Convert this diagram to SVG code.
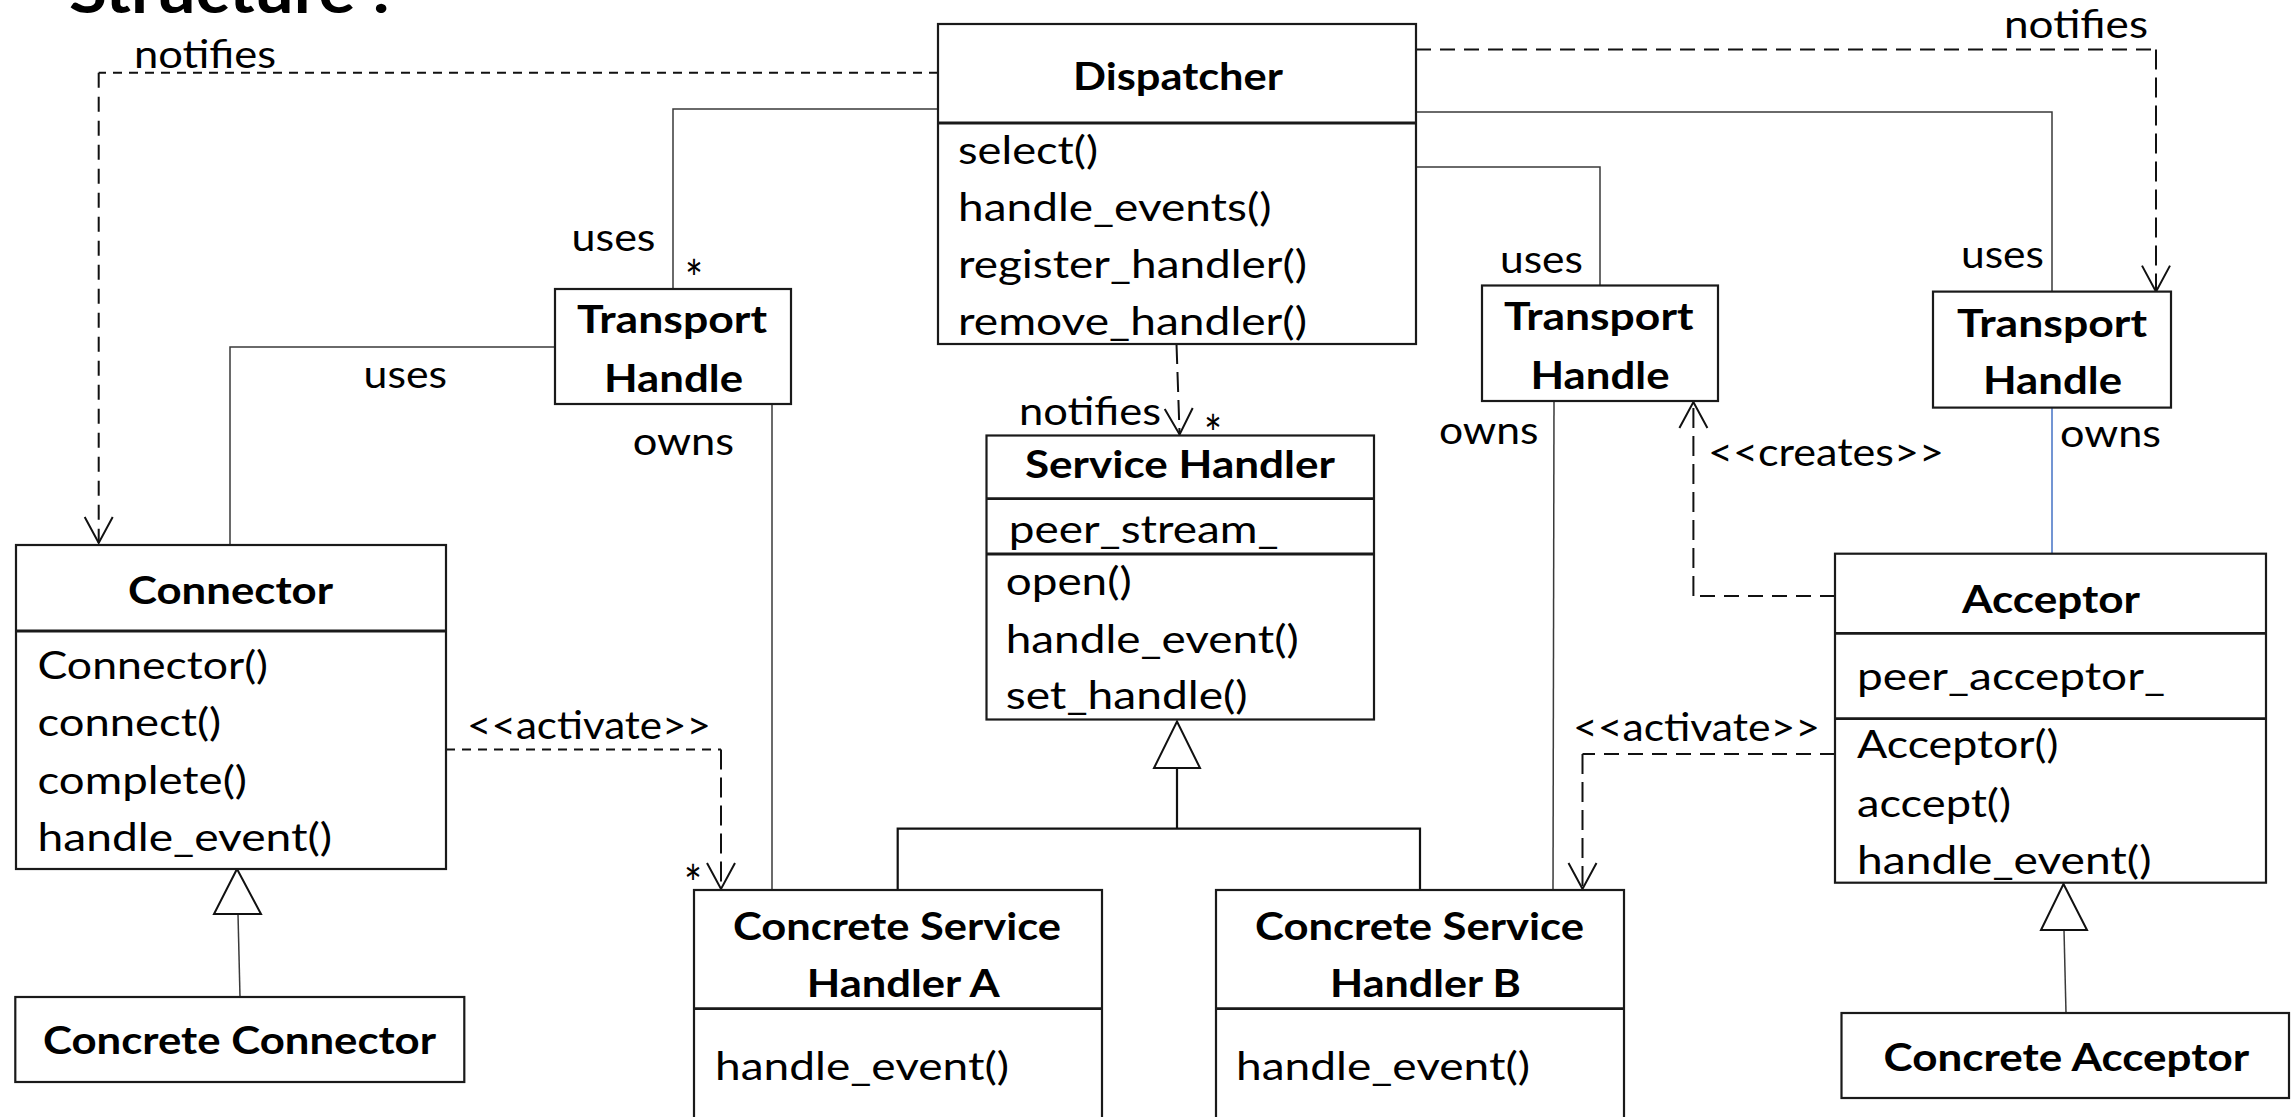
<svg xmlns="http://www.w3.org/2000/svg" width="2295" height="1117" viewBox="0 0 2295 1117">
  <style>
    text { font-family: "Lato", "Carlito", "Liberation Sans", sans-serif; fill: #000; }
    .title { font-size: 62px; font-weight: bold; }
    .hd { font-size: 38px; font-weight: bold; }
    .tx { font-size: 39px; }
    .lb { font-size: 38px; }
    .star { font-size: 50px; }
    .box { fill: #fff; stroke: #1a1a1a; stroke-width: 2.2; }
    .div { stroke: #1a1a1a; stroke-width: 2.8; fill: none; }
    .ln { fill: none; stroke: #3a3a3a; stroke-width: 1.5; }
    .blue { fill: none; stroke: #4472c4; stroke-width: 1.5; }
    .gen { fill: none; stroke: #111; stroke-width: 2.2; }
    .tri { fill: #fff; stroke: #111; stroke-width: 2; }
    .ds { fill: none; stroke: #111; stroke-width: 2; stroke-dasharray: 9 7; }
    .dm { fill: none; stroke: #111; stroke-width: 2; stroke-dasharray: 15 9; }
    .dl { fill: none; stroke: #111; stroke-width: 2; stroke-dasharray: 20 8; }
  </style>
  <defs>
    <marker id="open" markerUnits="userSpaceOnUse" viewBox="-30 -20 40 40" markerWidth="40" markerHeight="40" refX="0" refY="0" orient="auto" overflow="visible">
      <path d="M-26,-14 L0,0 L-26,14" fill="none" stroke="#111" stroke-width="2" stroke-dasharray="none"/>
    </marker>
  </defs>

  <rect width="2295" height="1117" fill="#fff"/>

  <text class="title" x="69" y="13" textLength="321" lengthAdjust="spacingAndGlyphs">Structure :</text>

  <!-- connectors -->
  <g id="connectors">
    <!-- Dispatcher notifies Connector -->
    <g id="c-notify-connector">
      <path class="ds" d="M938,72.7 H98.7"/>
      <path class="dm" d="M98.7,72.7 V543" marker-end="url(#open)"/>
      <text class="lb" x="134" y="68" textLength="142" lengthAdjust="spacingAndGlyphs">notifies</text>
    </g>
    <!-- Dispatcher notifies right Transport Handle -->
    <g id="c-notify-th3">
      <path class="dm" d="M1416,49.5 H2156"/>
      <path class="dl" d="M2156,49.5 V291.6" marker-end="url(#open)"/>
      <text class="lb" x="2004" y="38" textLength="144" lengthAdjust="spacingAndGlyphs">notifies</text>
    </g>
    <!-- Dispatcher uses Transport Handle (left) -->
    <g id="c-uses-th1">
      <path class="ln" d="M938,109 H673 V314"/>
      <text class="lb" x="571.5" y="251" textLength="84" lengthAdjust="spacingAndGlyphs">uses</text>
      <text class="star" x="685" y="297" textLength="18" lengthAdjust="spacingAndGlyphs">*</text>
    </g>
    <!-- Connector uses Transport Handle -->
    <g id="c-connector-uses">
      <path class="ln" d="M555,347 H230 V545"/>
      <text class="lb" x="363.6" y="388" textLength="83.5" lengthAdjust="spacingAndGlyphs">uses</text>
    </g>
    <!-- Concrete Service Handler A owns Transport Handle -->
    <g id="c-owns-a">
      <path class="ln" d="M772,404 V891"/>
      <text class="lb" x="632.7" y="455" textLength="101.5" lengthAdjust="spacingAndGlyphs">owns</text>
    </g>
    <!-- Dispatcher uses Transport Handle (middle) -->
    <g id="c-uses-th2">
      <path class="ln" d="M1416,167 H1600 V285.5"/>
      <text class="lb" x="1500" y="272.5" textLength="83" lengthAdjust="spacingAndGlyphs">uses</text>
    </g>
    <!-- Dispatcher uses Transport Handle (right) -->
    <g id="c-uses-th3">
      <path class="ln" d="M1416,112 H2052 V292"/>
      <text class="lb" x="1961" y="268" textLength="83" lengthAdjust="spacingAndGlyphs">uses</text>
    </g>
    <!-- Concrete Service Handler B owns Transport Handle -->
    <g id="c-owns-b">
      <path class="ln" d="M1554,401 L1553,894"/>
      <text class="lb" x="1439" y="444" textLength="99.5" lengthAdjust="spacingAndGlyphs">owns</text>
    </g>
    <!-- Acceptor owns Transport Handle -->
    <g id="c-owns-acceptor">
      <path class="blue" d="M2052,407.6 V554"/>
      <text class="lb" x="2060" y="447" textLength="101" lengthAdjust="spacingAndGlyphs">owns</text>
    </g>
    <!-- Dispatcher notifies Service Handler -->
    <g id="c-notify-sh">
      <path class="dl" d="M1176.5,344 L1179.6,434.4" marker-end="url(#open)"/>
      <text class="lb" x="1019" y="425" textLength="142" lengthAdjust="spacingAndGlyphs">notifies</text>
      <text class="star" x="1204" y="452" textLength="18" lengthAdjust="spacingAndGlyphs">*</text>
    </g>
    <!-- Connector activates Concrete Service Handler A -->
    <g id="c-activate-a">
      <path class="ds" d="M446,749.6 H721"/>
      <path class="dl" d="M721,749.6 V889" marker-end="url(#open)"/>
      <text class="lb" x="467" y="739" textLength="244" lengthAdjust="spacingAndGlyphs">&lt;&lt;activate&gt;&gt;</text>
      <text class="star" x="684" y="902" textLength="18" lengthAdjust="spacingAndGlyphs">*</text>
    </g>
    <!-- Acceptor activates Concrete Service Handler B -->
    <g id="c-activate-b">
      <path class="dm" d="M1835,754 H1582.5"/>
      <path class="dl" d="M1582.5,754 V889" marker-end="url(#open)"/>
      <text class="lb" x="1573" y="741" textLength="247" lengthAdjust="spacingAndGlyphs">&lt;&lt;activate&gt;&gt;</text>
    </g>
    <!-- Acceptor creates Transport Handle -->
    <g id="c-creates">
      <path class="dm" d="M1835,596 H1693.4"/>
      <path class="dl" d="M1693.4,596 V402" marker-end="url(#open)"/>
      <text class="lb" x="1708" y="466" textLength="236" lengthAdjust="spacingAndGlyphs">&lt;&lt;creates&gt;&gt;</text>
    </g>
    <!-- generalisations -->
    <g id="c-gen-connector">
      <path class="ln" d="M240,997 L238,914"/>
      <polygon class="tri" points="237,869 261,914 214,914"/>
    </g>
    <g id="c-gen-sh">
      <path class="gen" d="M1177,768 V828.6 M897.7,890 V828.6 H1420 V890"/>
      <polygon class="tri" points="1177,721.5 1200,768 1154,768"/>
    </g>
    <g id="c-gen-acceptor">
      <path class="ln" d="M2066,1013 L2064,930"/>
      <polygon class="tri" points="2063.5,884 2087,930 2041,930"/>
    </g>
  </g>

  <!-- Dispatcher -->
  <g id="dispatcher">
    <rect class="box" x="938" y="24" width="478" height="320"/>
    <line class="div" x1="938" y1="123" x2="1416" y2="123"/>
    <text class="hd" x="1073" y="90" textLength="210" lengthAdjust="spacingAndGlyphs">Dispatcher</text>
    <text class="tx" x="958" y="164" textLength="140" lengthAdjust="spacingAndGlyphs">select()</text>
    <text class="tx" x="958" y="221" textLength="313.5" lengthAdjust="spacingAndGlyphs">handle_events()</text>
    <text class="tx" x="958" y="277.5" textLength="349" lengthAdjust="spacingAndGlyphs">register_handler()</text>
    <text class="tx" x="958" y="335" textLength="349" lengthAdjust="spacingAndGlyphs">remove_handler()</text>
  </g>

  <!-- Transport Handles -->
  <g id="transport-handle-1">
    <rect class="box" x="555" y="289" width="236" height="115"/>
    <text class="hd" x="577" y="333" textLength="190" lengthAdjust="spacingAndGlyphs">Transport</text>
    <text class="hd" x="604" y="392" textLength="139" lengthAdjust="spacingAndGlyphs">Handle</text>
  </g>
  <g id="transport-handle-2">
    <rect class="box" x="1482" y="285.5" width="236" height="115.5"/>
    <text class="hd" x="1504" y="330" textLength="189.5" lengthAdjust="spacingAndGlyphs">Transport</text>
    <text class="hd" x="1530.5" y="388.5" textLength="139" lengthAdjust="spacingAndGlyphs">Handle</text>
  </g>
  <g id="transport-handle-3">
    <rect class="box" x="1933" y="291.6" width="238" height="116"/>
    <text class="hd" x="1957" y="337" textLength="190" lengthAdjust="spacingAndGlyphs">Transport</text>
    <text class="hd" x="1983" y="394" textLength="139" lengthAdjust="spacingAndGlyphs">Handle</text>
  </g>

  <!-- Service Handler -->
  <g id="service-handler">
    <rect class="box" x="986.5" y="435.5" width="387.5" height="284"/>
    <line class="div" x1="986.5" y1="498.7" x2="1374" y2="498.7"/>
    <line class="div" x1="986.5" y1="554" x2="1374" y2="554"/>
    <text class="hd" x="1025" y="478" textLength="310" lengthAdjust="spacingAndGlyphs">Service Handler</text>
    <text class="tx" x="1008.7" y="543" textLength="270" lengthAdjust="spacingAndGlyphs">peer_stream_</text>
    <text class="tx" x="1005.7" y="595" textLength="126" lengthAdjust="spacingAndGlyphs">open()</text>
    <text class="tx" x="1005.7" y="652.6" textLength="293" lengthAdjust="spacingAndGlyphs">handle_event()</text>
    <text class="tx" x="1005.7" y="709" textLength="242" lengthAdjust="spacingAndGlyphs">set_handle()</text>
  </g>

  <!-- Connector -->
  <g id="connector">
    <rect class="box" x="16" y="545" width="430" height="324"/>
    <line class="div" x1="16" y1="631" x2="446" y2="631"/>
    <text class="hd" x="128" y="604" textLength="205" lengthAdjust="spacingAndGlyphs">Connector</text>
    <text class="tx" x="37.5" y="679" textLength="230.5" lengthAdjust="spacingAndGlyphs">Connector()</text>
    <text class="tx" x="37.5" y="736" textLength="183.7" lengthAdjust="spacingAndGlyphs">connect()</text>
    <text class="tx" x="37.5" y="793.6" textLength="209.5" lengthAdjust="spacingAndGlyphs">complete()</text>
    <text class="tx" x="37.5" y="851" textLength="294.7" lengthAdjust="spacingAndGlyphs">handle_event()</text>
  </g>
  <g id="concrete-connector">
    <rect class="box" x="15.3" y="997" width="449" height="85"/>
    <text class="hd" x="43" y="1054" textLength="393" lengthAdjust="spacingAndGlyphs">Concrete Connector</text>
  </g>

  <!-- Concrete Service Handlers -->
  <g id="concrete-service-handler-a">
    <rect class="box" x="694" y="890" width="408" height="250"/>
    <line class="div" x1="694" y1="1008.6" x2="1102" y2="1008.6"/>
    <text class="hd" x="733" y="940" textLength="328" lengthAdjust="spacingAndGlyphs">Concrete Service</text>
    <text class="hd" x="806.7" y="997" textLength="193" lengthAdjust="spacingAndGlyphs">Handler A</text>
    <text class="tx" x="715" y="1080" textLength="294" lengthAdjust="spacingAndGlyphs">handle_event()</text>
  </g>
  <g id="concrete-service-handler-b">
    <rect class="box" x="1216" y="890" width="408" height="250"/>
    <line class="div" x1="1216" y1="1008.6" x2="1624" y2="1008.6"/>
    <text class="hd" x="1255" y="940" textLength="329" lengthAdjust="spacingAndGlyphs">Concrete Service</text>
    <text class="hd" x="1330" y="997" textLength="191" lengthAdjust="spacingAndGlyphs">Handler B</text>
    <text class="tx" x="1236" y="1080" textLength="294" lengthAdjust="spacingAndGlyphs">handle_event()</text>
  </g>

  <!-- Acceptor -->
  <g id="acceptor">
    <rect class="box" x="1835" y="553.7" width="431" height="329"/>
    <line class="div" x1="1835" y1="633.3" x2="2266" y2="633.3"/>
    <line class="div" x1="1835" y1="718.6" x2="2266" y2="718.6"/>
    <text class="hd" x="1962" y="612.6" textLength="178" lengthAdjust="spacingAndGlyphs">Acceptor</text>
    <text class="tx" x="1857" y="690" textLength="308" lengthAdjust="spacingAndGlyphs">peer_acceptor_</text>
    <text class="tx" x="1857" y="758" textLength="201.5" lengthAdjust="spacingAndGlyphs">Acceptor()</text>
    <text class="tx" x="1857" y="816.6" textLength="154" lengthAdjust="spacingAndGlyphs">accept()</text>
    <text class="tx" x="1857" y="874" textLength="294.5" lengthAdjust="spacingAndGlyphs">handle_event()</text>
  </g>
  <g id="concrete-acceptor">
    <rect class="box" x="1841.5" y="1013" width="447.5" height="85"/>
    <text class="hd" x="1883.6" y="1071" textLength="365.5" lengthAdjust="spacingAndGlyphs">Concrete Acceptor</text>
  </g>
</svg>
